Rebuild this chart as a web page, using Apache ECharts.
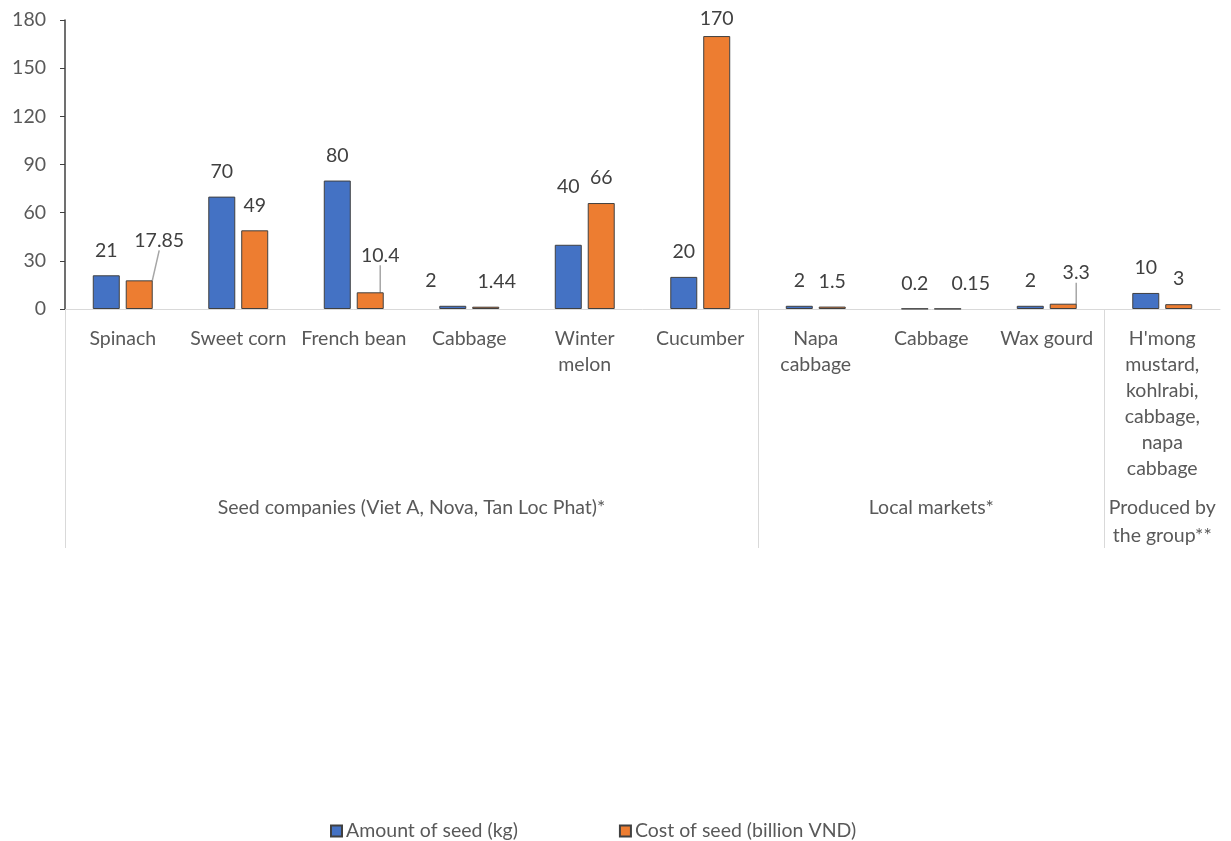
<!DOCTYPE html>
<html>
<head>
<meta charset="utf-8">
<script src="https://cdn.jsdelivr.net/npm/echarts@6/dist/echarts.min.js"></script>
<style>html,body{margin:0;padding:0;background:#fff}#c{width:1231px;height:841px}</style>
</head>
<body>
<div id="c"></div>
<script>
// ---- data ----
var categories = ['Spinach', 'Sweet corn', 'French bean', 'Cabbage', 'Winter\nmelon', 'Cucumber',
  'Napa\ncabbage', 'Cabbage', 'Wax gourd', "H'mong\nmustard,\nkohlrabi,\ncabbage,\nnapa\ncabbage"];
var groups = ['Seed companies (Viet A, Nova, Tan Loc Phat)*', 'Local markets*', 'Produced by\nthe group**'];
var groupStart = [0, 6, 9];      // first category index of each group
var groupEnd = [6, 9, 10];       // end boundary (exclusive)
var amountSeed = [21, 70, 80, 2, 40, 20, 2, 0.2, 2, 10];
var costSeed = [17.85, 49, 10.4, 1.44, 66, 170, 1.5, 0.15, 3.3, 3];
var seriesNames = ['Amount of seed (kg)', 'Cost of seed (billion VND)'];
var yTicks = [0, 30, 60, 90, 120, 150, 180];

// ---- label nudges (layout only) ----
var nudgeA = {3: [-22, 0], 4: [0, -33]};
var nudgeB = {0: [20, -15], 2: [10, -12], 3: [11, 0], 5: [0, 8], 7: [23, 0], 8: [13, -6]};
var leaderB = {0: true, 2: true, 8: true};

var FONT = 'Lato';
var FS = 19.5;
var TXT = '#595959';

function items(vals, leader) {
  return vals.map(function (v, i) {
    var o = {value: v};
    if (leader && leader[i]) o.labelLine = {show: true};
    return o;
  });
}
function layoutFn(nudge, leader) {
  return function (p) {
    var n = nudge[p.dataIndex];
    if (!n) return {};
    var res = {dx: n[0], dy: n[1]};
    if (leader && leader[p.dataIndex]) {
      var r = p.rect, lr = p.labelRect;
      var sx = r.x + r.width / 2, sy = r.y;
      var ex = lr.x + n[0] + lr.width / 2 - 1, ey = lr.y + n[1] + lr.height + 2;
      res.labelLinePoints = [[sx, sy], [(sx + ex) / 2, (sy + ey) / 2], [ex, ey]];
    }
    return res;
  };
}
var groupCenters = groups.map(function (g, i) { return (groupStart[i] + groupEnd[i]) / 2; });

var chart = echarts.init(document.getElementById('c'));
var barLabel = {show: true, position: 'top', distance: 15, color: '#404040', fontFamily: FONT, fontSize: FS};
var option = {
  animation: false,
  textStyle: {fontFamily: FONT},
  grid: {left: 65, right: 11, top: 20, bottom: 532, containLabel: false},
  legend: {
    top: 821, left: 330, padding: 0, itemWidth: 11, itemHeight: 11, itemGap: 101, icon: 'rect',
    textStyle: {color: TXT, fontSize: FS, fontFamily: FONT, padding: [0, 0, 0, -1]},
    data: seriesNames
  },
  xAxis: [
    {
      type: 'category', data: categories,
      axisLine: {show: true, lineStyle: {color: '#D9D9D9', width: 1}},
      axisTick: {show: false},
      axisLabel: {color: TXT, fontSize: FS, fontFamily: FONT, margin: 17, lineHeight: 26, interval: 0}
    },
    {
      type: 'value', min: 0, max: categories.length, position: 'bottom',
      axisLine: {show: false},
      splitLine: {show: false},
      axisTick: {show: true, inside: false, length: 239, customValues: groupStart,
        lineStyle: {color: '#D9D9D9', width: 1}},
      axisLabel: {show: true, customValues: groupCenters, color: TXT, fontSize: FS, fontFamily: FONT,
        margin: 185, lineHeight: 28, verticalAlign: 'top',
        formatter: function (v) { return groups[groupCenters.indexOf(v)]; }}
    }
  ],
  yAxis: {
    type: 'value', min: 0, max: 180, interval: 30,
    axisLine: {show: true, lineStyle: {color: '#404040', width: 1.5}},
    axisTick: {show: true, length: 5, lineStyle: {color: '#404040'}},
    splitLine: {show: false},
    axisLabel: {color: TXT, fontSize: FS, fontFamily: FONT, margin: 19,
      formatter: function (v) { return yTicks.indexOf(v) >= 0 ? String(v) : ''; }}
  },
  series: [
    {
      name: seriesNames[0], type: 'bar', xAxisIndex: 0, data: items(amountSeed),
      barWidth: 27, barGap: '22%',
      itemStyle: {color: '#4472C4', borderColor: '#404040', borderWidth: 1},
      label: barLabel,
      labelLayout: layoutFn(nudgeA)
    },
    {
      name: seriesNames[1], type: 'bar', xAxisIndex: 0, data: items(costSeed, leaderB),
      barWidth: 27, barGap: '22%',
      itemStyle: {color: '#ED7D31', borderColor: '#404040', borderWidth: 1},
      label: barLabel,
      labelLine: {show: false, smooth: false, lineStyle: {color: '#A6A6A6', width: 1.5}},
      labelLayout: layoutFn(nudgeB, leaderB)
    }
  ]
};
chart.setOption(option);
chart.setOption(option);
</script>
</body>
</html>
